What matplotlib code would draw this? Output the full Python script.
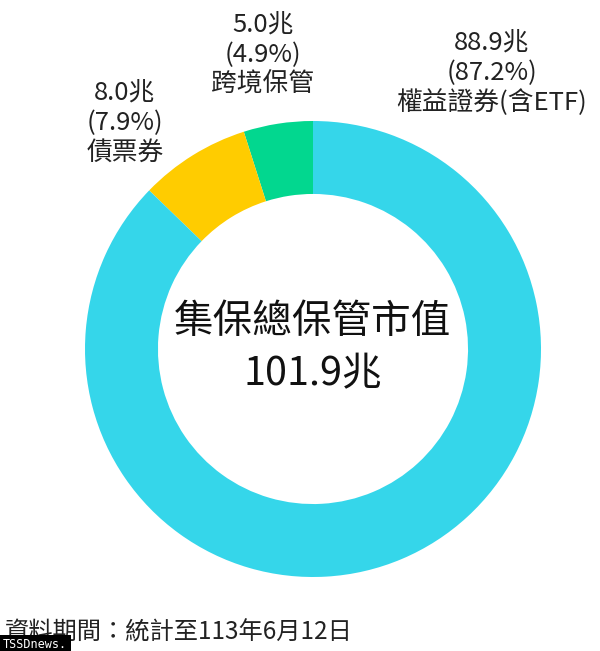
import matplotlib
matplotlib.use('Agg')
import matplotlib.pyplot as plt

plt.rcParams['font.family'] = ['Noto Sans CJK TC', 'DejaVu Sans']

# data (兆)
names = ['跨境保管', '債票券', '權益證券(含ETF)']
values = [5.0, 8.0, 88.9]
shares = ['4.9%', '7.9%', '87.2%']
colors = ['#02D78F', '#FFCC00', '#35D6EA']
total_label = '101.9兆'
title_center = '集保總保管市值'
note = '資料期間：統計至113年6月12日'

fig = plt.figure(figsize=(6.0, 6.51), dpi=100)
ax = fig.add_axes([85/600, 74/651, 456/600, 456/651])
ax.pie(values, colors=colors, startangle=90, counterclock=True,
       radius=1.0, wedgeprops=dict(width=0.32, edgecolor='none'))
ax.set_xlim(-1, 1)
ax.set_ylim(-1, 1)
ax.set_aspect('equal')
ax.axis('off')

# label positions (data units, radius = 1)
label_pos = [(-0.22, 1.29), (-0.825, 0.99), (0.785, 1.21)]
for (x, y), n, v, s in zip(label_pos, names, values, shares):
    ax.text(x, y, f'{v:.1f}兆\n({s})\n{n}', ha='center', va='center',
            fontsize=18.5, color='#222222', linespacing=1.17)

ax.text(0, 0.118, title_center, ha='center', va='center', fontsize=28.5, color='#111111')
ax.text(0, -0.11, total_label, ha='center', va='center', fontsize=28.5, color='#111111')

fig.text(5/600, 1 - 632/651, note, ha='left', va='center', fontsize=17.5, color='#222222')
fig.text(3/600, 1 - 645/651, 'TSSDnews.', ha='left', va='center', fontsize=8.5,
         color='white', family='DejaVu Sans Mono',
         bbox=dict(facecolor='black', edgecolor='none', pad=2.5))

fig.savefig('out.png', dpi=100)
